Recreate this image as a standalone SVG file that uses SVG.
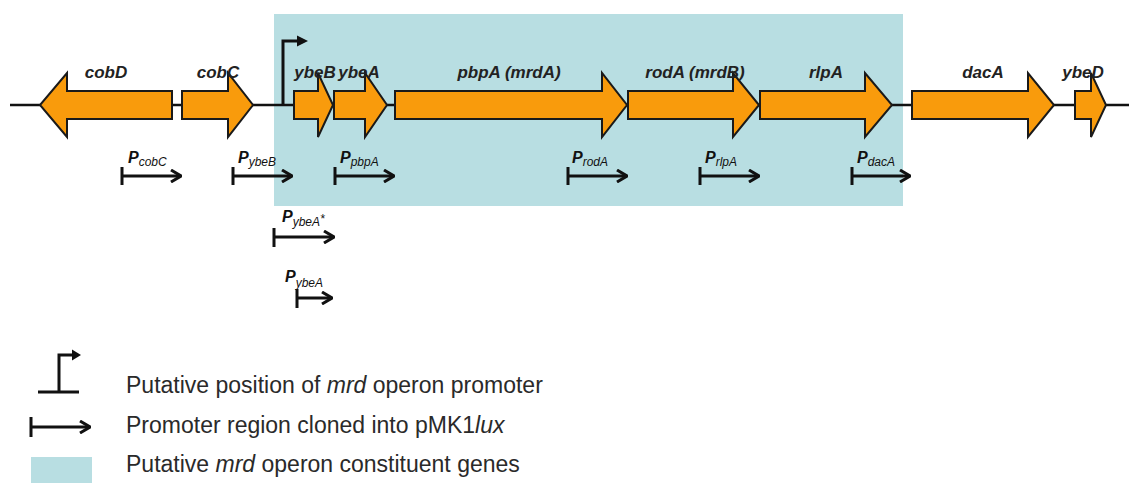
<svg xmlns="http://www.w3.org/2000/svg" width="1129" height="483" viewBox="0 0 1129 483">
<defs>
<style>
.gene{fill:#F99B0C;stroke:#1a1a1a;stroke-width:2;stroke-linejoin:miter}
.gl{font-family:"Liberation Sans",Arial,sans-serif;font-size:17px;font-weight:bold;font-style:italic;fill:#222;text-anchor:middle}
.pl{font-family:"Liberation Sans",Arial,sans-serif;font-size:16px;font-weight:bold;font-style:italic;fill:#111}
.ps{font-size:12px;font-weight:normal}
.prom{fill:none;stroke:#111;stroke-width:3}
.leg{font-family:"Liberation Sans",Arial,sans-serif;font-size:23px;fill:#2a2a2a}
</style>
<marker id="chev" viewBox="0 0 12 14" refX="11" refY="7" markerWidth="12" markerHeight="14" markerUnits="userSpaceOnUse" orient="auto">
<path d="M1,1 L11,7 L1,13" fill="none" stroke="#111" stroke-width="3"/>
</marker>
</defs>
<rect id="operon" x="274" y="14" width="629" height="192" fill="#B8DEE2"/>
<g id="connectors">
<line x1="10" y1="105" x2="1129" y2="105" stroke="#111" stroke-width="2.5"/>
<path d="M283,105 V41 H298" fill="none" stroke="#111" stroke-width="3"/>
<path d="M297,35.5 L308,41 L297,46.5 Z" fill="#111"/>
</g>
<g id="cobD"><path class="gene" d="M172,91 H67 V73 L40,105 L67,137 V119 H172 Z"/><text class="gl" x="106" y="78">cobD</text></g>
<g id="cobC"><path class="gene" d="M182,91 H228 V73 L253,105 L228,137 V119 H182 Z"/><text class="gl" x="218" y="78">cobC</text></g>
<g id="ybeB"><path class="gene" d="M294,91 H318 V73 L333,105 L318,137 V119 H294 Z"/><text class="gl" x="315" y="78">ybeB</text></g>
<g id="ybeA"><path class="gene" d="M334,91 H365 V73 L387,105 L365,137 V119 H334 Z"/><text class="gl" x="359" y="78">ybeA</text></g>
<g id="pbpA"><path class="gene" d="M395,91 H602 V73 L627,105 L602,137 V119 H395 Z"/><text class="gl" x="509" y="78">pbpA (mrdA)</text></g>
<g id="rodA"><path class="gene" d="M628,91 H733 V73 L759,105 L733,137 V119 H628 Z"/><text class="gl" x="695" y="78">rodA (mrdB)</text></g>
<g id="rlpA"><path class="gene" d="M760,91 H865 V73 L892,105 L865,137 V119 H760 Z"/><text class="gl" x="826" y="78">rlpA</text></g>
<g id="dacA"><path class="gene" d="M912,91 H1028 V73 L1054,105 L1028,137 V119 H912 Z"/><text class="gl" x="983" y="78">dacA</text></g>
<g id="ybeD"><path class="gene" d="M1075,91 H1091 V73 L1106,105 L1091,137 V119 H1075 Z"/><text class="gl" x="1083" y="78">ybeD</text></g>
<g id="PcobC"><path class="prom" d="M122,167 V185 M122,176 H181" marker-end="url(#chev)"/><text class="pl" x="128" y="163">P<tspan class="ps" dy="3">cobC</tspan></text></g>
<g id="PybeB"><path class="prom" d="M233,167 V185 M233,176 H292" marker-end="url(#chev)"/><text class="pl" x="238" y="163">P<tspan class="ps" dy="3">ybeB</tspan></text></g>
<g id="PpbpA"><path class="prom" d="M335,167 V185 M335,176 H394" marker-end="url(#chev)"/><text class="pl" x="340" y="163">P<tspan class="ps" dy="3">pbpA</tspan></text></g>
<g id="ProdA"><path class="prom" d="M568,167 V185 M568,176 H627" marker-end="url(#chev)"/><text class="pl" x="572" y="163">P<tspan class="ps" dy="3">rodA</tspan></text></g>
<g id="PrlpA"><path class="prom" d="M700,167 V185 M700,176 H759" marker-end="url(#chev)"/><text class="pl" x="705" y="163">P<tspan class="ps" dy="3">rlpA</tspan></text></g>
<g id="PdacA"><path class="prom" d="M852,167 V185 M852,176 H910" marker-end="url(#chev)"/><text class="pl" x="857" y="163">P<tspan class="ps" dy="3">dacA</tspan></text></g>
<g id="PybeAstar"><path class="prom" d="M274,228 V247 M274,237 H334" marker-end="url(#chev)"/><text class="pl" x="282" y="222">P<tspan class="ps" dy="4">ybeA</tspan><tspan class="ps" font-size="9" dy="-3">*</tspan></text></g>
<g id="PybeA"><path class="prom" d="M297,289 V308 M297,298 H332" marker-end="url(#chev)"/><text class="pl" x="285" y="282">P<tspan class="ps" dy="5">ybeA</tspan></text></g>
<g id="legend">
<path d="M38,392 H79 M59,392 V355 H73" fill="none" stroke="#111" stroke-width="3"/>
<path d="M72,349.5 L81,355 L72,360.5 Z" fill="#111"/>
<text class="leg" x="126" y="393">Putative position of <tspan font-style="italic">mrd</tspan> operon promoter</text>
<path class="prom" d="M31,417 V437 M31,427 H90" marker-end="url(#chev)"/>
<text class="leg" x="126" y="433">Promoter region cloned into pMK1<tspan font-style="italic">lux</tspan></text>
<rect x="31" y="457" width="61" height="26" fill="#B8DEE2"/>
<text class="leg" x="126" y="472">Putative <tspan font-style="italic">mrd</tspan> operon constituent genes</text>
</g>
</svg>
